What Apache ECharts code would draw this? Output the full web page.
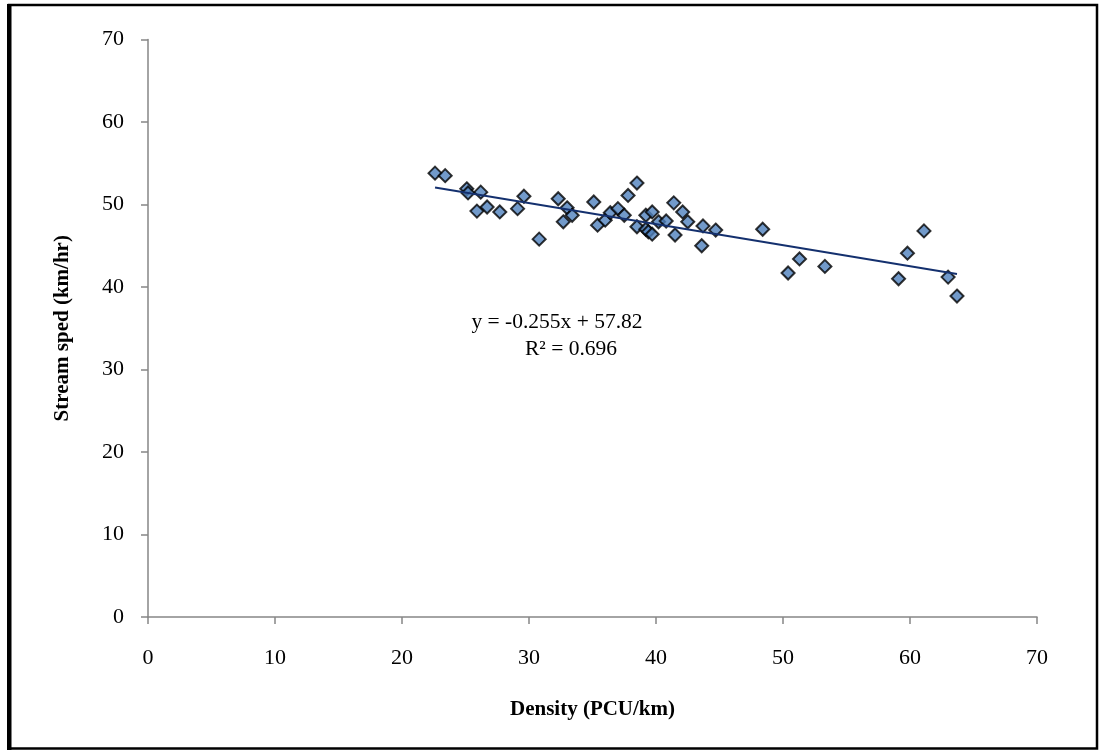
<!DOCTYPE html>
<html>
<head>
<meta charset="utf-8">
<title>Stream speed vs density</title>
<script src="https://cdn.jsdelivr.net/npm/echarts@6/dist/echarts.min.js"></script>
<style>
  html, body { margin: 0; padding: 0; background: #fff; }
  #chart { width: 1099px; height: 751px; }
</style>
</head>
<body>
<div id="chart"></div>
<script>
// Observed density (PCU/km) and stream speed (km/hr) pairs
const density = [
  22.6, 23.4, 25.1, 25.2, 26.2, 25.9, 26.7, 27.7, 29.1, 29.6,
  30.8, 32.3, 33.0, 33.4, 32.7, 35.1, 35.4, 36.0, 36.4, 37.0,
  37.5, 37.8, 38.5, 38.5, 39.2, 39.2, 39.4, 39.7, 39.7, 40.2,
  40.8, 41.4, 41.5, 42.1, 42.5, 43.6, 43.7, 44.7, 48.4, 50.4,
  51.3, 53.3, 59.1, 59.8, 61.1, 63.0, 63.7
];
const speed = [
  53.8, 53.5, 51.9, 51.4, 51.5, 49.2, 49.7, 49.1, 49.5, 51.0,
  45.8, 50.7, 49.6, 48.7, 47.9, 50.3, 47.5, 48.1, 49.0, 49.5,
  48.7, 51.1, 52.6, 47.3, 48.7, 47.0, 46.7, 49.1, 46.4, 47.9,
  48.0, 50.2, 46.3, 49.1, 47.9, 45.0, 47.4, 46.9, 47.0, 41.7,
  43.4, 42.5, 41.0, 44.1, 46.8, 41.2, 38.9
];

// Linear fit reported on the chart
const fitSlope = -0.255;
const fitIntercept = 57.82;
const fitR2 = 0.696;

const xTicks = [0, 10, 20, 30, 40, 50, 60, 70];
const yTicks = [0, 10, 20, 30, 40, 50, 60, 70];

const points = density.map((d, i) => [d, speed[i]]);
const xMin = Math.min(...density);
const xMax = Math.max(...density);
const fitLine = [
  [xMin, fitSlope * xMin + fitIntercept],
  [xMax, fitSlope * xMax + fitIntercept]
];

const serif = '"Liberation Serif", "DejaVu Serif", serif';
const axisGray = '#868686';

const chart = echarts.init(document.getElementById('chart'), null, { renderer: 'canvas' });
chart.setOption({
  animation: false,
  backgroundColor: '#fff',
  grid: { left: 148, right: 62, top: 39.5, bottom: 134, containLabel: false },
  xAxis: {
    type: 'value',
    min: xTicks[0], max: xTicks[xTicks.length - 1], interval: 10,
    name: 'Density (PCU/km)',
    nameLocation: 'middle', nameGap: 82,
    nameTextStyle: { fontFamily: serif, fontSize: 21, fontWeight: 'bold', color: '#000' },
    axisLine: { show: true, onZero: false, lineStyle: { color: axisGray, width: 1.5 } },
    axisTick: { show: true, inside: false, length: 7, lineStyle: { color: axisGray, width: 1.5 } },
    axisLabel: { margin: 30, fontFamily: serif, fontSize: 22, color: '#000' },
    splitLine: { show: false }
  },
  yAxis: {
    type: 'value',
    min: yTicks[0], max: yTicks[yTicks.length - 1], interval: 10,
    name: 'Stream sped (km/hr)',
    nameLocation: 'middle', nameGap: 75,
    nameTextStyle: { fontFamily: serif, fontSize: 21, fontWeight: 'bold', color: '#000' },
    axisLine: { show: true, onZero: false, lineStyle: { color: axisGray, width: 1.5 } },
    axisTick: { show: true, inside: false, length: 7, lineStyle: { color: axisGray, width: 1.5 } },
    axisLabel: { margin: 24, fontFamily: serif, fontSize: 22, color: '#000' },
    splitLine: { show: false }
  },
  series: [
    {
      name: 'Stream speed',
      type: 'scatter',
      data: points,
      symbol: 'diamond',
      symbolSize: 13,
      itemStyle: { color: '#4F81BD', borderColor: '#000', borderWidth: 2 },
      z: 3
    },
    {
      name: 'Linear fit',
      type: 'line',
      data: fitLine,
      showSymbol: false,
      symbol: 'none',
      lineStyle: { color: '#14306E', width: 2 },
      z: 4
    }
  ],
  graphic: [
    // outer frame
    { type: 'rect', shape: { x: 9, y: 5, width: 1088, height: 743.5 },
      style: { fill: null, stroke: '#000', lineWidth: 2.5 }, silent: true },
    { type: 'rect', shape: { x: 7, y: 4, width: 4.5, height: 746 },
      style: { fill: '#000' }, silent: true },
    // fit annotation
    { type: 'text', x: 557, y: 322,
      style: { text: 'y = -0.255x + 57.82', fontFamily: serif, fontSize: 21.5, fill: '#000',
               textAlign: 'center', textVerticalAlign: 'middle' } },
    { type: 'text', x: 571, y: 349,
      style: { text: 'R² = ' + fitR2.toFixed(3), fontFamily: serif, fontSize: 21.5, fill: '#000',
               textAlign: 'center', textVerticalAlign: 'middle' } }
  ]
});
</script>
</body>
</html>
